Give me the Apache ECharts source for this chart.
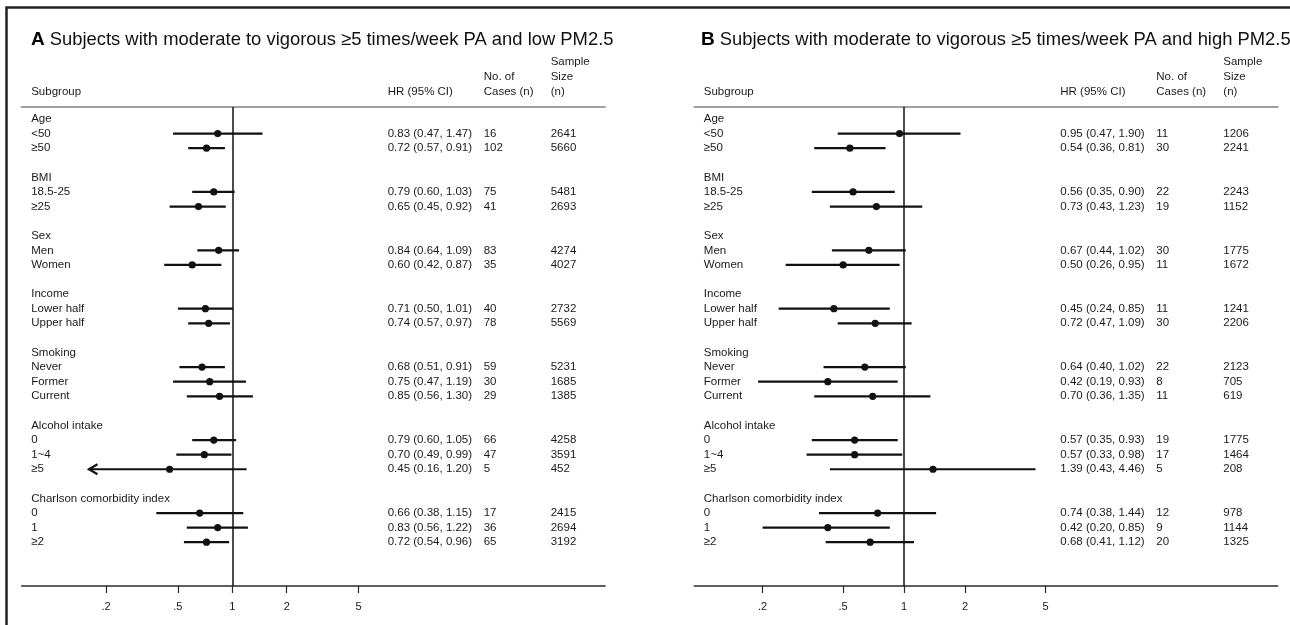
<!DOCTYPE html>
<html><head><meta charset="utf-8">
<script src="https://cdn.jsdelivr.net/npm/echarts@6/dist/echarts.min.js"></script>
<style>html,body{margin:0;padding:0;background:#fff}#c{width:1290px;height:625px}</style>
</head><body><div id="c"></div>
<script>
// ---------- data ----------
const groups = ['Age', 'BMI', 'Sex', 'Income', 'Smoking', 'Alcohol intake', 'Charlson comorbidity index'];
const subgroups = [
  ['<50', '≥50'],
  ['18.5-25', '≥25'],
  ['Men', 'Women'],
  ['Lower half', 'Upper half'],
  ['Never', 'Former', 'Current'],
  ['0', '1~4', '≥5'],
  ['0', '1', '≥2']
];
// Panel A: low PM2.5
const hrA    = [0.83, 0.72, 0.79, 0.65, 0.84, 0.60, 0.71, 0.74, 0.68, 0.75, 0.85, 0.79, 0.70, 0.45, 0.66, 0.83, 0.72];
const loA    = [0.47, 0.57, 0.60, 0.45, 0.64, 0.42, 0.50, 0.57, 0.51, 0.47, 0.56, 0.60, 0.49, 0.16, 0.38, 0.56, 0.54];
const hiA    = [1.47, 0.91, 1.03, 0.92, 1.09, 0.87, 1.01, 0.97, 0.91, 1.19, 1.30, 1.05, 0.99, 1.20, 1.15, 1.22, 0.96];
const casesA = [16, 102, 75, 41, 83, 35, 40, 78, 59, 30, 29, 66, 47, 5, 17, 36, 65];
const sizeA  = [2641, 5660, 5481, 2693, 4274, 4027, 2732, 5569, 5231, 1685, 1385, 4258, 3591, 452, 2415, 2694, 3192];
// Panel B: high PM2.5
const hrB    = [0.95, 0.54, 0.56, 0.73, 0.67, 0.50, 0.45, 0.72, 0.64, 0.42, 0.70, 0.57, 0.57, 1.39, 0.74, 0.42, 0.68];
const loB    = [0.47, 0.36, 0.35, 0.43, 0.44, 0.26, 0.24, 0.47, 0.40, 0.19, 0.36, 0.35, 0.33, 0.43, 0.38, 0.20, 0.41];
const hiB    = [1.90, 0.81, 0.90, 1.23, 1.02, 0.95, 0.85, 1.09, 1.02, 0.93, 1.35, 0.93, 0.98, 4.46, 1.44, 0.85, 1.12];
const casesB = [11, 30, 22, 19, 30, 11, 11, 30, 22, 8, 11, 19, 17, 5, 12, 9, 20];
const sizeB  = [1206, 2241, 2243, 1152, 1775, 1672, 1241, 2206, 2123, 705, 619, 1775, 1464, 208, 978, 1144, 1325];

const tickValues = [0.2, 0.5, 1, 2, 5];
const tickLabels = ['.2', '.5', '1', '2', '5'];
const titleA = 'Subjects with moderate to vigorous ≥5 times/week PA and low PM2.5';
const titleB = 'Subjects with moderate to vigorous ≥5 times/week PA and high PM2.5';
const colHeaders = [['Subgroup'], ['HR (95% CI)'], ['No. of', 'Cases (n)'], ['Sample', 'Size', '(n)']];

// ---------- layout / style ----------
const FONT = "'Liberation Sans', Arial, Helvetica, sans-serif";
const TXT = '#1a1a1a';
const FS = 11.5;
const COLX = [9.5, 366, 462, 529];   // text column offsets from grid left (px)
const panels = [
  { hr: hrA, lo: loA, hi: hiA, cases: casesA, size: sizeA, left: 21.7, width: 583.3, min: -2.683, max: 4.748, arrowBelow: 0.2 },
  { hr: hrB, lo: loB, hi: hiB, cases: casesB, size: sizeB, left: 694.3, width: 583.4, min: -2.386, max: 4.25, arrowBelow: 0 }
];
const GRID_TOP = 107, GRID_H = 479;
const YMIN = -0.822, YMAX = 32;

// ---------- rows ----------
const rowItems = [];
let r = 0, k = 0;
groups.forEach((g, gi) => {
  rowItems.push({ row: r, text: g, idx: -1 }); r++;
  subgroups[gi].forEach(s => { rowItems.push({ row: r, text: s, idx: k }); k++; r++; });
  r++;
});
const subRows = rowItems.filter(it => it.idx >= 0).map(it => it.row);

const fmt = v => v.toFixed(2);
const tickLn = tickValues.map(v => Math.log(v));
const labelFor = v => { const i = tickLn.findIndex(t => Math.abs(t - v) < 1e-6); return i >= 0 ? tickLabels[i] : ''; };

const grids = [], xAxes = [], yAxes = [], series = [];
panels.forEach((p, pi) => {
  grids.push({ left: p.left, top: GRID_TOP, width: p.width, height: GRID_H, containLabel: false });
  xAxes.push({
    type: 'value', gridIndex: pi, min: p.min, max: p.max, position: 'bottom',
    axisLine: { show: true, onZero: false, lineStyle: { color: '#2b2b2b', width: 1.6 } },
    axisTick: { show: true, customValues: tickLn, length: 7, inside: false, lineStyle: { color: '#2b2b2b', width: 1.2 } },
    axisLabel: { show: true, customValues: tickLn, formatter: labelFor, margin: 15, color: TXT, fontSize: 11, fontFamily: FONT },
    splitLine: { show: false }
  });
  xAxes.push({
    type: 'value', gridIndex: pi, min: p.min, max: p.max, position: 'top',
    axisLine: { show: true, onZero: false, lineStyle: { color: '#a0a0a0', width: 2 } },
    axisTick: { show: false }, axisLabel: { show: false }, splitLine: { show: false }
  });
  yAxes.push({ type: 'value', gridIndex: pi, inverse: true, min: YMIN, max: YMAX, show: false });

  const ciData = p.hr.map((h, i) => [Math.log(p.lo[i]), Math.log(p.hi[i]), Math.log(h), subRows[i], p.lo[i] < p.arrowBelow ? 1 : 0]);
  series.push({
    type: 'custom', xAxisIndex: pi * 2, yAxisIndex: pi, clip: false,
    data: ciData,
    renderItem: (params, api) => {
      const lo = api.coord([api.value(0), api.value(3)]);
      const hi = api.coord([api.value(1), api.value(3)]);
      const c = api.coord([api.value(2), api.value(3)]);
      const ch = [
        { type: 'line', shape: { x1: lo[0], y1: lo[1], x2: hi[0], y2: hi[1] }, style: { stroke: '#111', lineWidth: 2.2 } },
        { type: 'circle', shape: { cx: c[0], cy: c[1], r: 3.6 }, style: { fill: '#111' } }
      ];
      if (api.value(4)) {
        ch.push({ type: 'polyline', shape: { points: [[lo[0] + 9, lo[1] - 5], [lo[0] + 0.5, lo[1]], [lo[0] + 9, lo[1] + 5]] }, style: { stroke: '#111', lineWidth: 2.2, fill: null } });
      }
      return { type: 'group', children: ch };
    },
    markLine: {
      silent: true, symbol: ['none', 'none'], label: { show: false },
      lineStyle: { color: '#111', width: 1.5, type: 'solid' },
      data: [{ xAxis: Math.log(1) }]
    },
    z: 5
  });

  // row texts
  series.push({
    type: 'custom', xAxisIndex: pi * 2, yAxisIndex: pi, clip: false,
    data: rowItems.map(it => [0, it.row]),
    renderItem: (params, api) => {
      const it = rowItems[params.dataIndex];
      const x0 = params.coordSys.x;
      const y = api.coord([0, it.row])[1];
      const st = t => ({ text: t, fill: TXT, font: FS + 'px ' + FONT, textVerticalAlign: 'middle', textAlign: 'left' });
      const ch = [{ type: 'text', x: x0 + COLX[0], y: y, style: st(it.text) }];
      if (it.idx >= 0) {
        const i = it.idx;
        ch.push({ type: 'text', x: x0 + COLX[1], y: y, style: st(fmt(p.hr[i]) + ' (' + fmt(p.lo[i]) + ', ' + fmt(p.hi[i]) + ')') });
        ch.push({ type: 'text', x: x0 + COLX[2], y: y, style: st(String(p.cases[i])) });
        ch.push({ type: 'text', x: x0 + COLX[3], y: y, style: st(String(p.size[i])) });
      }
      return { type: 'group', children: ch };
    }
  });

  // column headers
  series.push({
    type: 'custom', xAxisIndex: pi * 2, yAxisIndex: pi, clip: false,
    data: [[0, -1.85]],
    renderItem: (params, api) => {
      const x0 = params.coordSys.x;
      const yb = api.coord([0, api.value(1)])[1];
      const ch = [];
      colHeaders.forEach((lines, ci) => {
        lines.forEach((t, li) => {
          ch.push({ type: 'text', x: x0 + COLX[ci], y: yb - 15 * (lines.length - 1 - li),
            style: { text: t, fill: TXT, font: FS + 'px ' + FONT, textVerticalAlign: 'middle', textAlign: 'left' } });
        });
      });
      return { type: 'group', children: ch };
    }
  });
});

const chart = echarts.init(document.getElementById('c'), null, { renderer: 'canvas' });
const mkTitle = (letter, text, left) => ({
  left: left, top: 25,
  text: '{b|' + letter + '} {n|' + text + '}',
  textStyle: { fontWeight: 'normal', rich: {
    b: { fontFamily: FONT, fontSize: 19, fontWeight: 'bold', color: '#000' },
    n: { fontFamily: FONT, fontSize: 18.4, fontWeight: 'normal', color: '#111' }
  } }
});
chart.setOption({
  animation: false,
  backgroundColor: '#fff',
  title: [mkTitle('A', titleA, 26), mkTitle('B', titleB, 696)],
  grid: grids, xAxis: xAxes, yAxis: yAxes, series: series,
  graphic: [{
    type: 'polyline', silent: true,
    shape: { points: [[6.5, 625], [6.5, 7.5], [1290, 7.5]] },
    style: { stroke: '#222', lineWidth: 2.5, fill: null }
  }]
});
</script></body></html>
